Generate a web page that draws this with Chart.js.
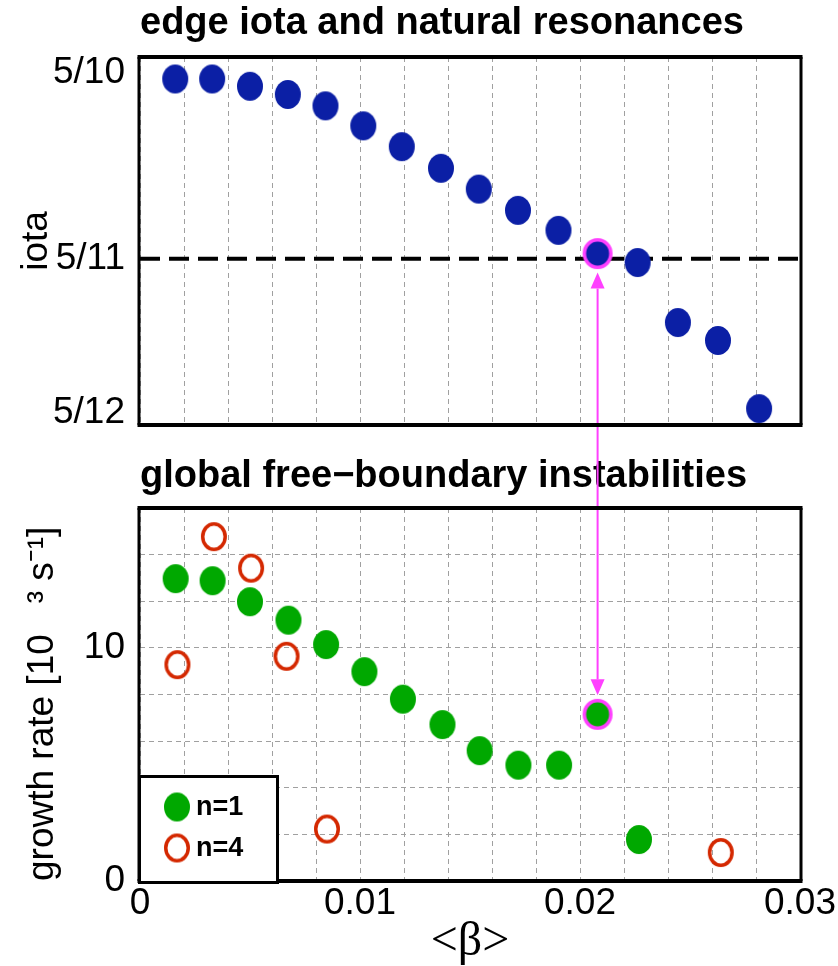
<!DOCTYPE html>
<html>
<head>
<meta charset="utf-8">
<title>edge iota and free-boundary instabilities</title>
<script src="https://cdn.jsdelivr.net/npm/chart.js@4.4.1/dist/chart.umd.min.js"></script>
<style>
  html, body { margin: 0; padding: 0; background: #fff; }
  #wrap { position: relative; width: 838px; height: 966px; }
  canvas { position: absolute; left: 0; }
  #iotaChart { top: 0; }
  #growthChart { top: 440px; }
</style>
</head>
<body>
<div id="wrap">
  <canvas id="iotaChart" width="838" height="440"></canvas>
  <canvas id="growthChart" width="838" height="526"></canvas>
</div>
<script>
// <beta> of the equilibria in the scan and their edge iota
const beta = [0.00160, 0.00328, 0.00500, 0.00672, 0.00843, 0.01015, 0.01190, 0.01368,
              0.01540, 0.01718, 0.01902, 0.02080, 0.02262, 0.02445, 0.02627, 0.02814];
const iota = [0.4986, 0.4986, 0.4968, 0.4948, 0.4920, 0.4871, 0.4820, 0.4767,
              0.4716, 0.4664, 0.4615, 0.4558, 0.4536, 0.4389, 0.4345, 0.4178];
const resonance = 5 / 11;
const iotaTicks = [5 / 12, 5 / 11, 5 / 10];
const iotaTickLabels = ['5/12', '5/11', '5/10'];

// growth rates of the global modes, in 10^3 s^-1
const n1Beta = [0.00162, 0.00330, 0.00500, 0.00675, 0.00846, 0.01020, 0.01195, 0.01375,
                0.01544, 0.01720, 0.01905, 0.02080, 0.02268];
const n1Rate = [12.97, 12.88, 11.98, 11.19, 10.14, 8.98, 7.80, 6.71, 5.59, 4.97, 4.97, 7.15, 1.78];
const n4Beta = [0.00170, 0.00336, 0.00505, 0.00666, 0.00850, 0.02640];
const n4Rate = [9.28, 14.77, 13.42, 9.64, 2.23, 1.22];
const rateTickLabels = [0, 10];
const betaTickLabels = [0, 0.01, 0.02, 0.03];

// equilibrium sitting on the 5/11 resonance
const resonantIndex = 11;

const BLUE = '#0b1fa5';
const GREEN = '#00a800';
const RED = '#d42800';
const MAGENTA = '#ff40ff';
const GRID = '#a0a0a0';
const SANS = '"Liberation Sans", Arial, sans-serif';

// ellipse markers drawn once and used as point styles
function ellipse(w, h, fill, stroke, lw) {
  const c = document.createElement('canvas');
  c.width = w + 2;
  c.height = h + 2;
  const ctx = c.getContext('2d');
  const l = lw || 0;
  ctx.beginPath();
  ctx.ellipse(c.width / 2, c.height / 2, (w - l) / 2, (h - l) / 2, 0, 0, Math.PI * 2);
  if (fill) { ctx.fillStyle = fill; ctx.fill(); }
  if (stroke) { ctx.lineWidth = l; ctx.strokeStyle = stroke; ctx.stroke(); }
  return c;
}
const blueDot = ellipse(26, 29, BLUE);
const greenDot = ellipse(26, 29, GREEN);
const redRing = ellipse(26, 29, null, RED, 3.5);
const pinkRing = ellipse(30, 31, null, MAGENTA, 3.5);

const pts = (xs, ys) => xs.map((x, i) => ({ x: x, y: ys[i] }));

// thick black box round the plot area
const frame = {
  id: 'frame',
  afterDatasetsDraw(chart) {
    const { ctx, chartArea: a } = chart;
    ctx.save();
    ctx.strokeStyle = '#000';
    ctx.lineWidth = 3;
    ctx.beginPath();
    ctx.moveTo(a.left - 1, a.top); ctx.lineTo(a.left - 1, a.bottom);
    ctx.moveTo(a.right + 1, a.top); ctx.lineTo(a.right + 1, a.bottom);
    ctx.stroke();
    ctx.lineWidth = 4;
    ctx.beginPath();
    ctx.moveTo(a.left - 2.5, a.top); ctx.lineTo(a.right + 2.5, a.top);
    ctx.moveTo(a.left - 2.5, a.bottom); ctx.lineTo(a.right + 2.5, a.bottom);
    ctx.stroke();
    ctx.restore();
  }
};

// magenta arrow linking the resonant point of both panels
const resonanceArrow = {
  id: 'resonanceArrow',
  afterDatasetsDraw(chart, args, opts) {
    const el = chart.getDatasetMeta(opts.dataset).data[0];
    if (!el) return;
    const { ctx } = chart;
    const gap = 19, head = 16, half = 7;
    const x = el.x;
    ctx.save();
    ctx.strokeStyle = MAGENTA;
    ctx.fillStyle = MAGENTA;
    ctx.lineWidth = 2;
    ctx.beginPath();
    if (opts.from === 'below') {
      const tip = el.y + gap;
      ctx.moveTo(x, chart.height); ctx.lineTo(x, tip + head);
      ctx.stroke();
      ctx.beginPath();
      ctx.moveTo(x, tip); ctx.lineTo(x - half, tip + head); ctx.lineTo(x + half, tip + head);
    } else {
      const tip = el.y - gap;
      ctx.moveTo(x, 0); ctx.lineTo(x, tip - head);
      ctx.stroke();
      ctx.beginPath();
      ctx.moveTo(x, tip); ctx.lineTo(x - half, tip - head); ctx.lineTo(x + half, tip - head);
    }
    ctx.closePath();
    ctx.fill();
    ctx.restore();
  }
};

// boxed legend in the lower left corner
const legendBox = {
  id: 'legendBox',
  afterDraw(chart) {
    const { ctx, chartArea: a } = chart;
    const w = 138, h = 106;
    const x = a.left, y = a.bottom - h;
    ctx.save();
    ctx.fillStyle = '#fff';
    ctx.fillRect(x, y, w, h);
    ctx.strokeStyle = '#000';
    ctx.lineWidth = 3;
    ctx.strokeRect(x - 0.5, y + 1.5, w, h);
    ctx.font = 'bold 27px ' + SANS;
    ctx.textAlign = 'left';
    ctx.textBaseline = 'middle';
    ctx.fillStyle = '#000';
    chart.data.datasets.filter(d => d.inLegend).forEach((d, i) => {
      const cy = y + 32 + i * 41;
      const img = d.pointStyle;
      ctx.drawImage(img, x + 37 - img.width / 2, cy - img.height / 2);
      ctx.fillText(d.label, x + 56, cy + 1);
    });
    ctx.restore();
  }
};

const gridX = {
  type: 'linear', min: 0, max: 0.03,
  grid: { color: GRID, lineWidth: 1, drawTicks: false },
  border: { display: false, dash: [5, 4] }
};

new Chart(document.getElementById('iotaChart'), {
  type: 'scatter',
  data: {
    datasets: [
      { label: '5/11 crossing', data: pts([beta[resonantIndex]], [iota[resonantIndex]]),
        pointStyle: pinkRing, pointRadius: 14, order: 0 },
      { label: 'edge iota', data: pts(beta, iota), pointStyle: blueDot, pointRadius: 13, order: 1 },
      { label: '5/11', data: pts([0, 0.03], [resonance, resonance]), showLine: true,
        borderColor: '#000', borderWidth: 4, borderDash: [20, 9], pointRadius: 0, order: 2 }
    ]
  },
  options: {
    responsive: false, animation: false, devicePixelRatio: 1,
    layout: { padding: { left: 0, right: 38, top: 0, bottom: 0 } },
    scales: {
      x: Object.assign({}, gridX, {
        ticks: { display: false, stepSize: 0.002, autoSkip: false },
        afterFit: s => { s.height = 9; s.paddingLeft = 0; s.paddingRight = 0; }
      }),
      y: {
        type: 'linear', min: 0.413788, max: 0.503978,
        afterBuildTicks: s => { s.ticks = iotaTicks.map(v => ({ value: v })); },
        afterFit: s => { s.width = 140; s.paddingTop = 0; s.paddingBottom = 0; },
        ticks: { autoSkip: false, padding: 15, color: '#000', font: { family: SANS, size: 37 },
                 callback: (v, i) => iotaTickLabels[i] },
        grid: { display: false, drawTicks: false },
        border: { display: false },
        title: { display: true, text: 'iota', color: '#000',
                 font: { family: SANS, size: 37, lineHeight: 1 }, padding: { top: 18.5 } }
      }
    },
    plugins: {
      legend: { display: false },
      tooltip: { enabled: false },
      title: { display: true, text: 'edge iota and natural resonances', align: 'start', fullSize: false,
               color: '#000', font: { family: SANS, size: 38, weight: 'bold', lineHeight: 1 },
               padding: { top: 4.8, bottom: 14.2 } },
      resonanceArrow: { dataset: 0, from: 'below' }
    }
  },
  plugins: [resonanceArrow, frame]
});

new Chart(document.getElementById('growthChart'), {
  type: 'scatter',
  data: {
    datasets: [
      { label: 'resonant', data: pts([n1Beta[resonantIndex]], [n1Rate[resonantIndex]]),
        pointStyle: pinkRing, pointRadius: 14, order: 0 },
      { label: 'n=1', data: pts(n1Beta, n1Rate), pointStyle: greenDot, pointRadius: 13, order: 1, inLegend: true },
      { label: 'n=4', data: pts(n4Beta, n4Rate), pointStyle: redRing, pointRadius: 13, order: 1, inLegend: true }
    ]
  },
  options: {
    responsive: false, animation: false, devicePixelRatio: 1,
    layout: { padding: { left: 0, right: 38, top: 0, bottom: 0 } },
    scales: {
      x: Object.assign({}, gridX, {
        ticks: { stepSize: 0.002, autoSkip: false, maxRotation: 0, padding: 1, color: '#000',
                 font: { family: SANS, size: 37 },
                 callback: v => {
                   const t = betaTickLabels.find(b => Math.abs(b - v) < 1e-9);
                   return t === undefined ? '' : String(t);
                 } },
        afterFit: s => { s.height = 85; s.paddingLeft = 0; s.paddingRight = 0; },
        title: { display: true, text: '<β>', color: '#000',
                 font: { family: '"Liberation Serif", "Times New Roman", serif', size: 48, lineHeight: 1 },
                 padding: { top: 0, bottom: 0 } }
      }),
      y: {
        type: 'linear', min: 0, max: 16,
        afterFit: s => { s.width = 140; s.paddingTop = 0; s.paddingBottom = 0; },
        ticks: { stepSize: 2, autoSkip: false, padding: 15, color: '#000', font: { family: SANS, size: 37 },
                 callback: v => rateTickLabels.includes(v) ? String(v) : '' },
        grid: { color: GRID, lineWidth: 1, drawTicks: false },
        border: { display: false, dash: [5, 4] },
        title: { display: true, text: 'growth rate [10   ³ s⁻¹]', align: 'start', color: '#000',
                 font: { family: SANS, size: 37, lineHeight: 1 }, padding: { top: 24 } }
      }
    },
    plugins: {
      legend: { display: false },
      tooltip: { enabled: false },
      title: { display: true, text: 'global free−boundary instabilities', align: 'start', fullSize: false,
               color: '#000', font: { family: SANS, size: 38, weight: 'bold', lineHeight: 1 },
               padding: { top: 17.8, bottom: 12.2 } },
      resonanceArrow: { dataset: 0, from: 'above' }
    }
  },
  plugins: [resonanceArrow, frame, legendBox]
});
</script>
</body>
</html>
